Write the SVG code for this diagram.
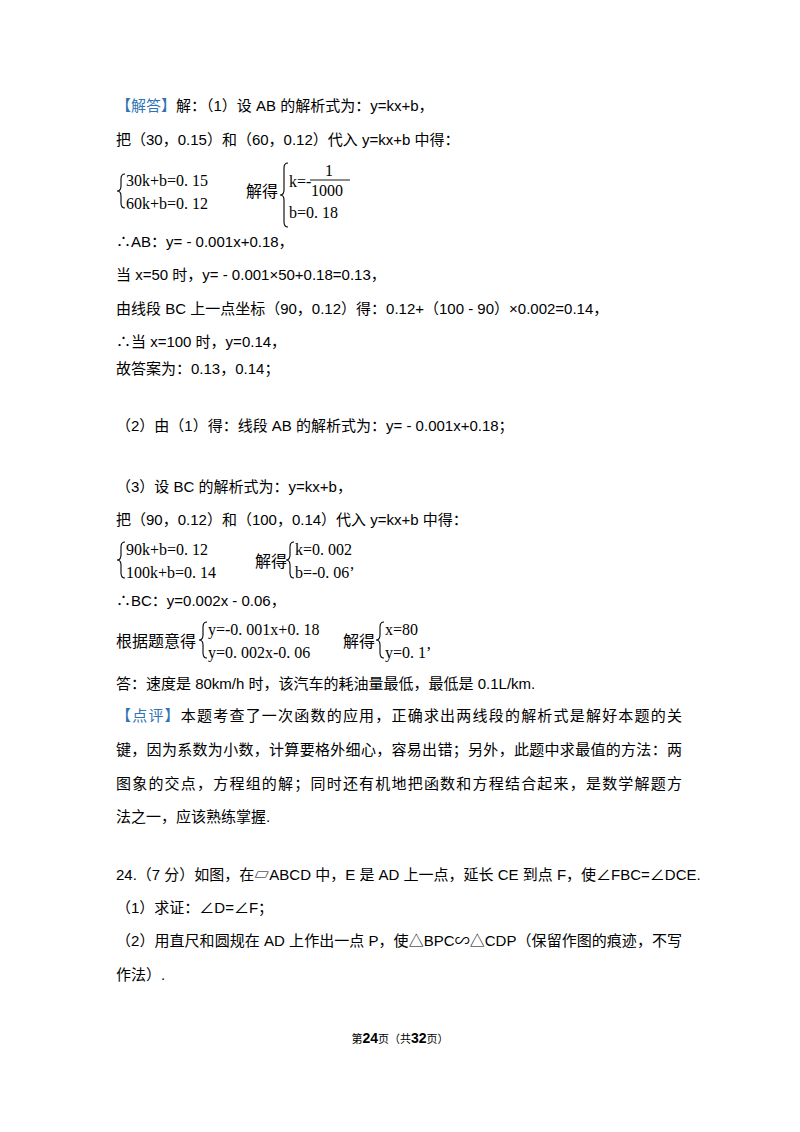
<svg xmlns="http://www.w3.org/2000/svg" width="800" height="1132" viewBox="0 0 800 1132">
<style>
.t{font-family:"Liberation Sans","Noto Sans CJK SC",sans-serif;font-size:15px;fill:#000}
.e{font-family:"Liberation Serif","Noto Sans CJK SC",serif;font-size:16px;fill:#000}
.b{fill:#2E74B5}
.br{fill:none;stroke:#000;stroke-width:1.1}
</style>
<rect width="800" height="1132" fill="#fff"/>
<g id="text">
<text class="t" x="116" y="111"><tspan class="b">【解答】</tspan>解：（1）设 AB 的解析式为：y=kx+b，</text>
<text class="t" x="116" y="145">把（30，0.15）和（60，0.12）代入 y=kx+b 中得：</text>
<path class="br" d="M125,174 q-4,0 -4,5 v7 q0,5 -4,5 q4,0 4,5 v7 q0,5 4,5"/>
<text class="e" x="126" y="186">30k+b=0. 15</text>
<text class="e" x="126" y="209">60k+b=0. 12</text>
<text class="e" x="246" y="197">解得</text>
<path class="br" d="M288,163 q-4,0 -4,5 v22 q0,5 -4,5 q4,0 4,5 v22 q0,5 4,5"/>
<text class="e" x="289" y="187">k=-</text>
<text class="e" x="325" y="176">1</text>
<line x1="310" y1="180" x2="350" y2="180" stroke="#000" stroke-width="0.9"/>
<text class="e" x="311" y="196">1000</text>
<text class="e" x="289" y="218">b=0. 18</text>
<text class="t" x="116" y="247">∴AB：y= - 0.001x+0.18，</text>
<text class="t" x="116" y="280">当 x=50 时，y= - 0.001×50+0.18=0.13，</text>
<text class="t" x="116" y="314">由线段 BC 上一点坐标（90，0.12）得：0.12+（100 - 90）×0.002=0.14，</text>
<text class="t" x="116" y="347">∴当 x=100 时，y=0.14，</text>
<text class="t" x="116" y="374">故答案为：0.13，0.14；</text>
<text class="t" x="116" y="431">（2）由（1）得：线段 AB 的解析式为：y= - 0.001x+0.18；</text>
<text class="t" x="116" y="492">（3）设 BC 的解析式为：y=kx+b，</text>
<text class="t" x="116" y="525">把（90，0.12）和（100，0.14）代入 y=kx+b 中得：</text>
<path class="br" d="M125,542 q-4,0 -4,5 v8 q0,5 -4,5 q4,0 4,5 v8 q0,5 4,5"/>
<text class="e" x="126" y="555">90k+b=0. 12</text>
<text class="e" x="126" y="578">100k+b=0. 14</text>
<text class="e" x="255" y="567">解得</text>
<path class="br" d="M294,542 q-4,0 -4,5 v8 q0,5 -4,5 q4,0 4,5 v8 q0,5 4,5"/>
<text class="e" x="295" y="555">k=0. 002</text>
<text class="e" x="295" y="578">b=-0. 06’</text>
<text class="t" x="116" y="606">∴BC：y=0.002x - 0.06，</text>
<text class="e" x="116" y="647">根据题意得</text>
<path class="br" d="M207,622 q-4,0 -4,5 v8 q0,5 -4,5 q4,0 4,5 v8 q0,5 4,5"/>
<text class="e" x="208" y="635">y=-0. 001x+0. 18</text>
<text class="e" x="208" y="658">y=0. 002x-0. 06</text>
<text class="e" x="343" y="647">解得</text>
<path class="br" d="M384,622 q-4,0 -4,5 v8 q0,5 -4,5 q4,0 4,5 v8 q0,5 4,5"/>
<text class="e" x="385" y="635">x=80</text>
<text class="e" x="385" y="658">y=0. 1’</text>
<text class="t" x="116" y="689">答：速度是 80km/h 时，该汽车的耗油量最低，最低是 0.1L/km.</text>
<text class="t" x="116" y="721" textLength="566" lengthAdjust="spacing"><tspan class="b">【点评】</tspan>本题考查了一次函数的应用，正确求出两线段的解析式是解好本题的关</text>
<text class="t" x="116" y="755" textLength="566" lengthAdjust="spacing">键，因为系数为小数，计算要格外细心，容易出错；另外，此题中求最值的方法：两</text>
<text class="t" x="116" y="789" textLength="566" lengthAdjust="spacing">图象的交点，方程组的解；同时还有机地把函数和方程结合起来，是数学解题方</text>
<text class="t" x="116" y="822">法之一，应该熟练掌握.</text>
<text class="t" x="116" y="880">24.（7 分）如图，在▱ABCD 中，E 是 AD 上一点，延长 CE 到点 F，使∠FBC=∠DCE.</text>
<text class="t" x="116" y="913">（1）求证：∠D=∠F；</text>
<text class="t" x="116" y="946" textLength="566" lengthAdjust="spacing">（2）用直尺和圆规在 AD 上作出一点 P，使△BPC∽△CDP（保留作图的痕迹，不写</text>
<text class="t" x="116" y="980">作法）.</text>
<text class="t" x="400" y="1043" text-anchor="middle" style="font-size:11px">第<tspan font-weight="bold" font-size="14">24</tspan>页（共<tspan font-weight="bold" font-size="14">32</tspan>页）</text>
</g>
</svg>
